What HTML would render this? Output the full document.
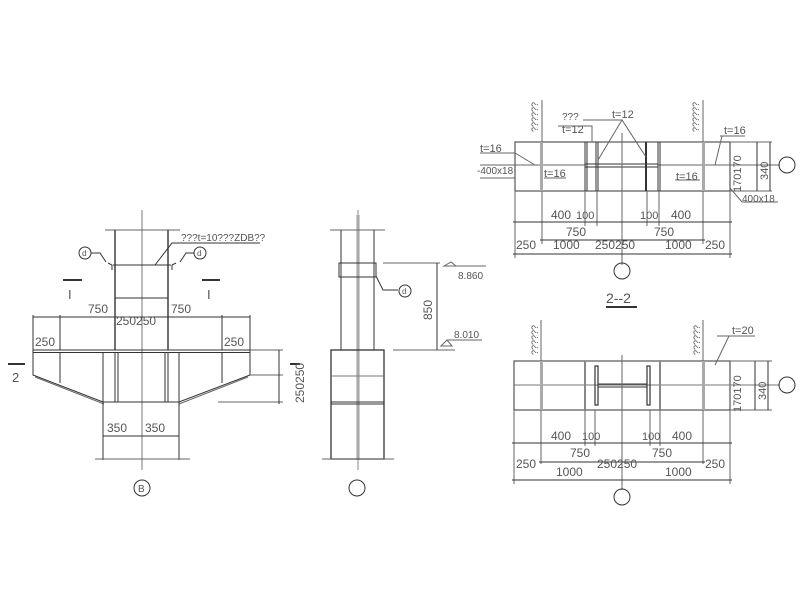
<!DOCTYPE html>
<html><head><meta charset="utf-8"><style>
html,body{margin:0;padding:0;background:#fff}
svg{display:block}
text{font-family:"Liberation Sans","Noto Sans CJK SC",sans-serif;fill:#555}
</style></head><body>
<svg width="800" height="600" viewBox="0 0 800 600" xmlns="http://www.w3.org/2000/svg">
<g stroke="#333" stroke-width="1" fill="none">
<!-- LEFT ELEVATION -->
<line x1="142" y1="210" x2="142" y2="470" stroke="#777"/>
<line x1="105" y1="230" x2="180" y2="230" stroke="#666"/>
<line x1="115" y1="230" x2="115" y2="350" stroke-width="1.4"/>
<line x1="168" y1="230" x2="168" y2="350" stroke-width="1.4"/>
<line x1="113" y1="265" x2="171" y2="265"/>
<path d="M108 263 L112 265 L112 270 M176 263 L172 265 L172 270"/>
<line x1="115" y1="298" x2="168" y2="298"/>
<line x1="33" y1="317" x2="250" y2="317"/>
<line x1="33" y1="315" x2="33" y2="350"/><line x1="60" y1="315" x2="60" y2="350"/>
<line x1="222" y1="315" x2="222" y2="350"/><line x1="250" y1="315" x2="250" y2="350"/>
<rect x="33" y="350" width="217" height="2.5"/>
<path d="M33 352 L33 375 L103 402 L179 402 L250 375 L250 352"/>
<path d="M35 377 L104 404 M248 377 L179 404" stroke="#666"/>
<line x1="60" y1="352" x2="60" y2="383"/><line x1="222" y1="352" x2="222" y2="383"/>
<line x1="103" y1="352" x2="103" y2="460"/><line x1="179" y1="352" x2="179" y2="460"/>
<line x1="115" y1="352" x2="115" y2="402"/><line x1="118" y1="352" x2="118" y2="402"/>
<line x1="165" y1="352" x2="165" y2="402"/><line x1="168" y1="352" x2="168" y2="402"/>
<line x1="103" y1="436" x2="179" y2="436"/>
<line x1="95" y1="459" x2="190" y2="459" stroke="#666"/>
<line x1="250" y1="350" x2="283" y2="350" stroke="#666"/>
<line x1="250" y1="375" x2="283" y2="375" stroke="#666"/>
<line x1="218" y1="402" x2="283" y2="402" stroke="#666"/>
<line x1="279" y1="350" x2="279" y2="404"/>
<line x1="8" y1="364" x2="25" y2="364" stroke-width="2"/>
<line x1="290" y1="364" x2="300" y2="364" stroke-width="2"/>
<line x1="63" y1="280" x2="82" y2="280" stroke-width="2"/>
<line x1="202" y1="280" x2="220" y2="280" stroke-width="2"/>
<circle cx="142" cy="488" r="8"/>
<circle cx="85" cy="253" r="6"/><circle cx="200" cy="253" r="6"/>
<path d="M91 253 L100 253 L106 262 M194 253 L186 253 L180 262"/>
<path d="M155 265 L172 243 L260 243"/>
<!-- MIDDLE VIEW -->
<rect x="356" y="215" width="4" height="245" fill="#ccc" stroke="none"/>
<line x1="358" y1="210" x2="358" y2="470" stroke="#888"/>
<line x1="330" y1="230" x2="385" y2="230" stroke="#666"/>
<line x1="341" y1="230" x2="341" y2="350"/><line x1="374" y1="230" x2="374" y2="350"/>
<rect x="339" y="263" width="37" height="14"/>
<path d="M376 276 L383 290 L398 290"/>
<circle cx="405" cy="291" r="6"/>
<rect x="331" y="350" width="53" height="109" stroke-width="1.3"/>
<line x1="331" y1="376" x2="384" y2="376" stroke="#777"/>
<line x1="331" y1="402" x2="384" y2="402"/><line x1="331" y1="404" x2="384" y2="404"/>
<line x1="322" y1="459" x2="394" y2="459" stroke="#666"/>
<circle cx="357" cy="488" r="8"/>
<line x1="383" y1="263" x2="440" y2="263" stroke="#666"/>
<line x1="393" y1="350" x2="455" y2="350" stroke="#666"/>
<line x1="437" y1="263" x2="437" y2="350"/>
<path d="M444 266 L451 262 L456 266 Z M455 266 L486 266" stroke="#666"/>
<path d="M441 346 L447 340 L452 346 Z M447 340 L482 340" stroke="#666"/>
<!-- TOP RIGHT 1-1 -->
<rect x="515" y="142" width="215" height="49"/>
<line x1="480" y1="165" x2="585" y2="165" stroke="#666"/>
<line x1="658" y1="165" x2="780" y2="165" stroke="#666"/>
<rect x="585" y="164" width="73" height="3"/>
<rect x="540" y="142" width="3" height="49" fill="#aaa" stroke="none"/>
<rect x="702" y="142" width="3" height="49" fill="#aaa" stroke="none"/>
<line x1="585" y1="142" x2="585" y2="191"/><line x1="587" y1="142" x2="587" y2="191"/>
<line x1="596" y1="142" x2="596" y2="191"/><line x1="598" y1="142" x2="598" y2="191"/>
<line x1="646" y1="142" x2="646" y2="191" stroke-width="2"/>
<line x1="658" y1="142" x2="658" y2="191"/><line x1="660" y1="142" x2="660" y2="191"/>
<line x1="542" y1="100" x2="542" y2="142" stroke="#666"/>
<line x1="703" y1="100" x2="703" y2="142" stroke="#666"/>
<line x1="622" y1="133" x2="622" y2="265" stroke="#666"/>
<path d="M558 126 L592 126 L592 142" stroke="#666"/>
<path d="M583 120 L622 120 L598 160 M622 120 L646 157" stroke="#666"/>
<path d="M480 153 L515 153 L535 165" stroke="#666"/>
<path d="M480 178 L515 178" stroke="#666"/>
<path d="M544 178 L566 178 M675 180 L700 180" stroke="#666"/>
<path d="M720 136 L745 136 M722 136 L715 165" stroke="#666"/>
<path d="M730 188 L742 202 L778 202" stroke="#666"/>
<line x1="730" y1="142" x2="772" y2="142" stroke="#666"/>
<line x1="730" y1="191" x2="772" y2="191" stroke="#666"/>
<line x1="757" y1="142" x2="757" y2="191"/><line x1="770" y1="142" x2="770" y2="191"/>
<circle cx="787" cy="165" r="8"/>
<g stroke="#666">
<line x1="515" y1="191" x2="515" y2="258"/><line x1="730" y1="191" x2="730" y2="258"/>
<line x1="542" y1="191" x2="542" y2="244"/><line x1="703" y1="191" x2="703" y2="244"/>
<line x1="585" y1="191" x2="585" y2="226"/><line x1="597" y1="191" x2="597" y2="226"/>
<line x1="647" y1="191" x2="647" y2="226"/><line x1="659" y1="191" x2="659" y2="226"/>
</g>
<line x1="513" y1="222" x2="732" y2="222"/>
<line x1="540" y1="240" x2="705" y2="240"/>
<line x1="513" y1="254" x2="732" y2="254"/>
<circle cx="622" cy="271" r="8"/>
<line x1="606" y1="307" x2="637" y2="307" stroke-width="2"/>
<!-- BOTTOM RIGHT 2-2 -->
<rect x="514" y="361" width="216" height="49"/>
<line x1="514" y1="385" x2="780" y2="385" stroke="#777"/>
<rect x="540" y="361" width="3" height="49" fill="#aaa" stroke="none"/>
<rect x="702" y="361" width="3" height="49" fill="#aaa" stroke="none"/>
<line x1="585" y1="361" x2="585" y2="410" stroke="#888" stroke-width="2"/>
<line x1="660" y1="361" x2="660" y2="410" stroke="#888" stroke-width="2"/>
<rect x="595" y="366" width="3" height="39" stroke-width="1.2"/>
<rect x="647" y="366" width="3" height="39" stroke-width="1.2"/>
<rect x="598" y="384" width="49" height="3"/>
<line x1="541" y1="320" x2="541" y2="361" stroke="#666"/>
<line x1="703" y1="320" x2="703" y2="361" stroke="#666"/>
<line x1="622" y1="355" x2="622" y2="490" stroke="#666"/>
<path d="M717 336 L755 336 M729 336 L715 365" stroke="#666"/>
<line x1="730" y1="361" x2="772" y2="361" stroke="#666"/>
<line x1="730" y1="410" x2="772" y2="410" stroke="#666"/>
<line x1="755" y1="361" x2="755" y2="410"/><line x1="768" y1="361" x2="768" y2="410"/>
<circle cx="787" cy="385" r="8"/>
<g stroke="#666">
<line x1="514" y1="410" x2="514" y2="484"/><line x1="730" y1="410" x2="730" y2="484"/>
<line x1="541" y1="410" x2="541" y2="464"/><line x1="703" y1="410" x2="703" y2="464"/>
<line x1="585" y1="410" x2="585" y2="446"/><line x1="595" y1="410" x2="595" y2="446"/>
<line x1="650" y1="410" x2="650" y2="446"/><line x1="660" y1="410" x2="660" y2="446"/>
</g>
<line x1="512" y1="443" x2="732" y2="443"/>
<line x1="539" y1="462" x2="705" y2="462"/>
<line x1="512" y1="480" x2="732" y2="480"/>
<circle cx="622" cy="497" r="8"/>
</g>
<g font-size="12">
<text x="88" y="313">750</text><text x="171" y="313">750</text>
<text x="116" y="325">250250</text>
<text x="35" y="346">250</text><text x="224" y="346">250</text>
<text x="68" y="299" font-size="13">I</text><text x="207" y="299" font-size="13">I</text>
<text x="12" y="382" font-size="13">2</text>
<text transform="translate(304,403) rotate(-90)">250250</text>
<text x="107" y="432">350</text><text x="145" y="432">350</text>
<text x="138" y="492" font-size="10">B</text>
<text x="82" y="256" font-size="8">d</text><text x="197" y="256" font-size="8">d</text>
<text x="402" y="294" font-size="8">d</text>
<text x="181" y="241" font-size="10">???t=10???ZDB??</text>
<text transform="translate(432,320) rotate(-90)">850</text>
<text x="458" y="279" font-size="10">8.860</text>
<text x="454" y="338" font-size="10">8.010</text>
<text x="551" y="219">400</text><text x="576" y="219" font-size="11">100</text>
<text x="640" y="219" font-size="11">100</text><text x="671" y="219">400</text>
<text x="566" y="236">750</text><text x="654" y="236">750</text>
<text x="516" y="249">250</text><text x="553" y="249">1000</text>
<text x="595" y="249">250250</text><text x="665" y="249">1000</text><text x="705" y="249">250</text>
<text x="562" y="120" font-size="10">???</text><text x="562" y="133" font-size="11">t=12</text>
<text x="612" y="118" font-size="11">t=12</text>
<text x="480" y="152" font-size="11">t=16</text>
<text x="477" y="174" font-size="10">-400x18</text>
<text x="544" y="177" font-size="11">t=16</text>
<text x="676" y="180" font-size="11">t=16</text>
<text x="724" y="134" font-size="11">t=16</text>
<text x="742" y="202" font-size="10">400x18</text>
<text transform="translate(538,132) rotate(-90)" font-size="9">??????</text>
<text transform="translate(699,132) rotate(-90)" font-size="9">??????</text>
<text transform="translate(741,192) rotate(-90)" font-size="11">170170</text>
<text transform="translate(768,180) rotate(-90)" font-size="11">340</text>
<text x="606" y="303" font-size="14">2--2</text>
<text transform="translate(538,355) rotate(-90)" font-size="9">??????</text>
<text transform="translate(700,355) rotate(-90)" font-size="9">??????</text>
<text x="732" y="334" font-size="11">t=20</text>
<text transform="translate(741,412) rotate(-90)" font-size="11">170170</text>
<text transform="translate(766,400) rotate(-90)" font-size="11">340</text>
<text x="551" y="440">400</text><text x="582" y="440" font-size="11">100</text>
<text x="642" y="440" font-size="11">100</text><text x="672" y="440">400</text>
<text x="570" y="457">750</text><text x="652" y="457">750</text>
<text x="516" y="468">250</text><text x="597" y="468">250250</text><text x="705" y="468">250</text>
<text x="556" y="476">1000</text><text x="665" y="476">1000</text>
</g>
</svg>
</body></html>
